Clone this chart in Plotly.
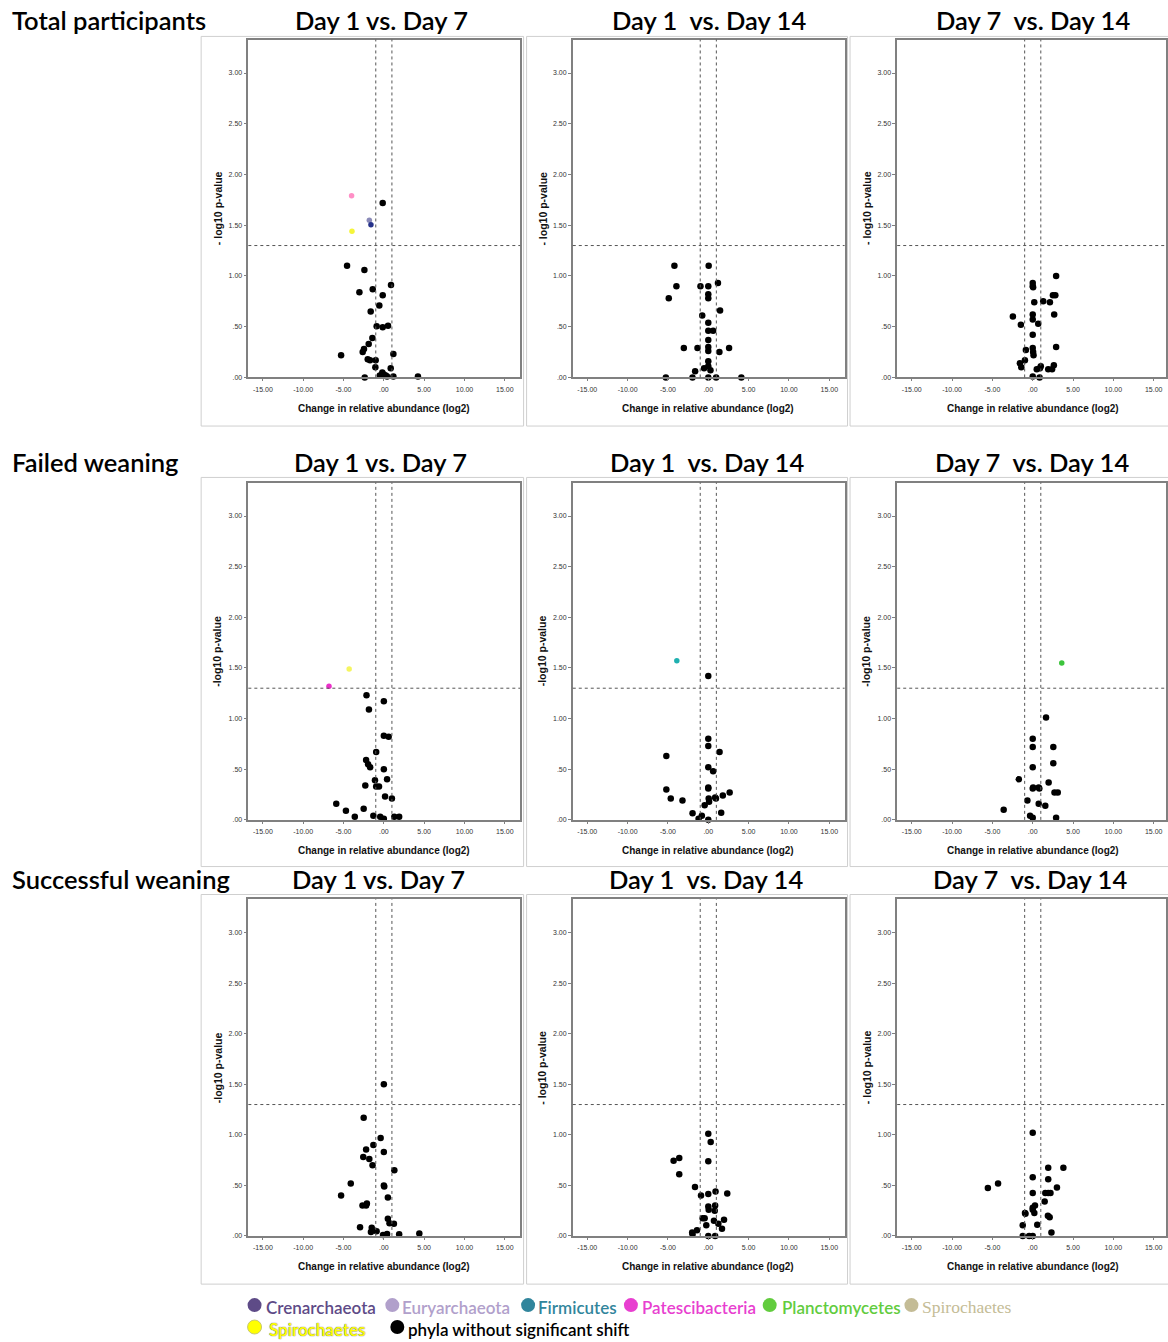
import plotly.graph_objects as go

W, H = 1168, 1342

# ---------------- DATA ----------------
group_names = ["Total participants", "Failed weaning", "Successful weaning"]
comparisons = ["Day 1 vs. Day 7", "Day 1\u00a0 vs. Day 14", "Day 7\u00a0 vs. Day 14"]
ytitles = [["- log10 p-value", "- log10 p-value", "- log10 p-value"],
           ["-log10 p-value", "-log10 p-value", "-log10 p-value"],
           ["-log10 p-value", "- log10 p-value", "- log10 p-value"]]
xtitle = "Change in relative abundance (log2)"

x_tickvals = [-15, -10, -5, 0, 5, 10, 15]
x_ticktext = ["-15.00", "-10.00", "-5.00", ".00", "5.00", "10.00", "15.00"]
y_tickvals = [0, 0.5, 1, 1.5, 2, 2.5, 3]
y_ticktext = [".00", ".50", "1.00", "1.50", "2.00", "2.50", "3.00"]

fc_threshold = 1.0      # |log2 fold change|
p_threshold = 1.30      # -log10(0.05)

# Total participants, Day 1 vs Day 7
tot_17_x = [-0.14, -4.56, -2.41, 0.89, -3.03, -1.38, -0.14, -0.56, -1.63, -0.89, -0.14, 0.52,
            -1.42, -1.88, -2.46, -2.62, -5.30, 1.18, -2.00, -1.71, -1.01, -1.05, 0.85, -0.19,
            0.0, -0.5, 0.23, 0.4, 1.18, -2.37, 4.23]
tot_17_y = [1.72, 1.10, 1.06, 0.91, 0.84, 0.87, 0.81, 0.71, 0.65, 0.505, 0.495, 0.51,
            0.39, 0.33, 0.28, 0.25, 0.22, 0.23, 0.18, 0.17, 0.17, 0.10, 0.09, 0.05,
            0.03, 0.02, 0.02, 0.01, 0.01, 0.0, 0.01]
tot_17_sig_x = [-4.0, -3.95, -1.8, -1.6]
tot_17_sig_y = [1.79, 1.44, 1.55, 1.505]
tot_17_sig_phylum = ["Patescibacteria", "Spirochaetes", "Euryarchaeota", "Crenarchaeota"]

# Total participants, Day 1 vs Day 14
tot_114_x = [-4.2, 0.05, -3.95, -0.97, 0.0, 1.2, 0.0, 0.0, -4.9, 1.46, -0.75, 0.0, 0.0, 0.6,
             0.0, 0.0, 0.0, -3.03, -1.34, 1.38, 2.58, 0.0, 0.0, -0.52, 0.27, -1.63, -1.96,
             -5.26, 0.0, 0.97, 4.1]
tot_114_y = [1.10, 1.10, 0.90, 0.90, 0.90, 0.93, 0.82, 0.78, 0.78, 0.66, 0.61, 0.54, 0.46, 0.46,
             0.37, 0.30, 0.26, 0.29, 0.29, 0.25, 0.29, 0.16, 0.11, 0.09, 0.07, 0.06, 0.0,
             0.0, 0.0, 0.0, 0.0]
tot_114_sig_x = []
tot_114_sig_y = []
tot_114_sig_phylum = []

# Total participants, Day 7 vs Day 14
tot_714_x = [2.9, 0.0, 0.0, 0.05, 0.19, 1.3, 2.13, 2.5, 2.8, -2.46, 0.0, 0.0, 2.66, -1.47,
             0.68, 0.0, 2.9, -0.85, 0.0, 0.05, 0.1, -0.97, -1.59, -1.42, 0.89, 1.0, 0.5,
             1.92, 2.4, 2.62, 0.0, 0.85]
tot_714_y = [1.00, 0.93, 0.90, 0.89, 0.74, 0.75, 0.74, 0.81, 0.81, 0.60, 0.62, 0.57, 0.62, 0.52,
             0.53, 0.42, 0.30, 0.27, 0.29, 0.25, 0.22, 0.17, 0.14, 0.10, 0.09, 0.11, 0.08,
             0.08, 0.08, 0.12, 0.01, 0.0]
tot_714_sig_x = []
tot_714_sig_y = []
tot_714_sig_phylum = []

# Failed weaning, Day 1 vs Day 7
fail_17_x = [-2.15, -1.85, 0.0, 0.0, 0.6, -0.95, -2.2, -1.95, -1.7, 0.0, -1.1, 0.4, -2.3, -0.95,
             -0.6, 0.15, 1.0, -5.9, -2.5, -4.7, -3.6, -1.3, -0.45, 0.0, 1.3, 1.9]
fail_17_y = [1.23, 1.09, 1.17, 0.83, 0.82, 0.67, 0.59, 0.55, 0.52, 0.50, 0.39, 0.40, 0.34, 0.33,
             0.33, 0.23, 0.21, 0.16, 0.11, 0.09, 0.03, 0.04, 0.03, 0.01, 0.03, 0.03]
fail_17_sig_x = [-6.8, -4.3]
fail_17_sig_y = [1.32, 1.49]
fail_17_sig_phylum = ["Patescibacteria", "Spirochaetes"]

# Failed weaning, Day 1 vs Day 14
fail_114_x = [0.0, 0.0, 0.0, 1.4, -5.2, 0.0, 0.6, 0.0, 0.0, -5.2, 2.65, 1.8, 0.85, 0.95, 0.05,
              0.1, -4.65, -3.2, -0.45, -1.95, 1.6, -0.8, -1.2, 0.0]
fail_114_y = [1.42, 0.80, 0.73, 0.67, 0.63, 0.52, 0.48, 0.32, 0.31, 0.30, 0.27, 0.24, 0.22, 0.21,
              0.21, 0.18, 0.21, 0.19, 0.145, 0.066, 0.07, 0.04, 0.01, 0.0]
fail_114_sig_x = [-3.9]
fail_114_sig_y = [1.57]
fail_114_sig_phylum = ["Firmicutes"]

# Failed weaning, Day 7 vs Day 14
fail_714_x = [1.65, 0.0, 0.0, 2.55, 2.55, 0.0, -1.73, 1.97, 0.0, 0.05, 0.74, 0.82, 2.7, 3.1,
              -0.66, 0.74, 1.56, -3.6, -0.33, 0.0, 2.9]
fail_714_y = [1.01, 0.80, 0.72, 0.72, 0.56, 0.52, 0.40, 0.37, 0.31, 0.32, 0.32, 0.31, 0.27, 0.27,
              0.19, 0.16, 0.14, 0.10, 0.04, 0.02, 0.02]
fail_714_sig_x = [3.6]
fail_714_sig_y = [1.55]
fail_714_sig_phylum = ["Planctomycetes"]

# Successful weaning, Day 1 vs Day 7
succ_17_x = [0.0, -2.5, -0.4, -1.3, -2.2, 0.0, -2.55, -1.8, -1.4, 1.3, -4.1, 0.0, 0.05, -5.3,
             0.5, -2.1, -2.2, -2.65, 0.5, 0.7, 1.25, -1.5, -2.95, -1.6, -0.9, -0.1, 0.4,
             1.9, 4.4]
succ_17_y = [1.50, 1.17, 0.97, 0.90, 0.855, 0.83, 0.78, 0.76, 0.70, 0.65, 0.52, 0.50, 0.49, 0.40,
             0.38, 0.32, 0.30, 0.30, 0.17, 0.125, 0.12, 0.08, 0.085, 0.04, 0.046, 0.01, 0.02,
             0.016, 0.023]
succ_17_sig_x = []
succ_17_sig_y = []
succ_17_sig_phylum = []

# Successful weaning, Day 1 vs Day 14
succ_114_x = [0.0, 0.3, 0.0, -4.3, -3.6, -3.6, -1.65, -0.9, 0.0, 0.9, 2.35, 0.0, 0.05, 0.85,
              0.8, -0.7, -0.45, 0.7, 1.95, 1.25, 1.7, -0.25, -1.4, -2.0, -1.95, 0.0, 0.85]
succ_114_y = [1.01, 0.93, 0.74, 0.745, 0.77, 0.61, 0.485, 0.40, 0.415, 0.44, 0.42, 0.29, 0.26,
              0.30, 0.25, 0.175, 0.175, 0.15, 0.16, 0.12, 0.07, 0.105, 0.056, 0.033, 0.016,
              0.0, 0.0]
succ_114_sig_x = []
succ_114_sig_y = []
succ_114_sig_phylum = []

# Successful weaning, Day 7 vs Day 14
succ_714_x = [0.0, 1.92, 3.8, 0.0, 1.92, -4.3, -5.56, 3.0, 0.0, 1.56, 1.92, 2.2, 1.48, 0.28,
              0.0, 0.0, -0.96, -0.9, 0.2, 1.88, 2.1, 0.56, -1.24, 2.32, -1.24, -0.45, 0.0]
succ_714_y = [1.02, 0.675, 0.675, 0.58, 0.56, 0.52, 0.475, 0.48, 0.425, 0.425, 0.425, 0.425,
              0.34, 0.30, 0.28, 0.26, 0.227, 0.22, 0.227, 0.20, 0.185, 0.11, 0.105, 0.033,
              0.0, 0.0, 0.0]
succ_714_sig_x = []
succ_714_sig_y = []
succ_714_sig_phylum = []

legend_row1 = ["Crenarchaeota", "Euryarchaeota", "Firmicutes", "Patescibacteria",
               "Planctomycetes", "Spirochaetes"]
legend_row2 = ["Spirochaetes", "phyla without significant shift"]

panels = [
    [(tot_17_x, tot_17_y, tot_17_sig_x, tot_17_sig_y, tot_17_sig_phylum),
     (tot_114_x, tot_114_y, tot_114_sig_x, tot_114_sig_y, tot_114_sig_phylum),
     (tot_714_x, tot_714_y, tot_714_sig_x, tot_714_sig_y, tot_714_sig_phylum)],
    [(fail_17_x, fail_17_y, fail_17_sig_x, fail_17_sig_y, fail_17_sig_phylum),
     (fail_114_x, fail_114_y, fail_114_sig_x, fail_114_sig_y, fail_114_sig_phylum),
     (fail_714_x, fail_714_y, fail_714_sig_x, fail_714_sig_y, fail_714_sig_phylum)],
    [(succ_17_x, succ_17_y, succ_17_sig_x, succ_17_sig_y, succ_17_sig_phylum),
     (succ_114_x, succ_114_y, succ_114_sig_x, succ_114_sig_y, succ_114_sig_phylum),
     (succ_714_x, succ_714_y, succ_714_sig_x, succ_714_sig_y, succ_714_sig_phylum)],
]

# ---------------- STYLE ----------------
panel_point_colors = {
    (0, 0): {"Patescibacteria": "#ff8fc6", "Spirochaetes": "#f5f53a",
             "Euryarchaeota": "#8a8ab8", "Crenarchaeota": "#26328a"},
    (1, 0): {"Patescibacteria": "#ea2fc8", "Spirochaetes": "#f5f560"},
    (1, 1): {"Firmicutes": "#1fb0b0"},
    (1, 2): {"Planctomycetes": "#3cc43c"},
}
legend_colors = {
    "Crenarchaeota": "#5e4b87", "Euryarchaeota": "#b1a0cb", "Firmicutes": "#31859c",
    "Patescibacteria": "#e83fd0", "Planctomycetes": "#62cc3e", "Spirochaetes": "#c4bc96",
}

FONT = "Liberation Sans, Arial, sans-serif"
HEAD_FONT = "Lato, Open Sans, sans-serif"

def fx(p):
    return p / W

def fy(p):
    return 1 - p / H

col_x0 = [384.5, 709.5, 1034.5]     # pixel of x=0 in each column
row_y0 = [378.3, 821.7, 1238.7]     # pixel of y=0 in each row
px_per_x = 8.08
px_per_y = [101.7, 101.5, 101.3]
x_lo = -16.8
x_hi = [16.9, 16.9, (W - col_x0[2]) / px_per_x]
y_hi = 3.33

fig = go.Figure()
shapes = []
annotations = []

box_cols = [(201.5, 524.5), (527.5, 849.0), (851.5, W + 5)]
box_rows = [(36.5, 427.0), (478.5, 868.5), (896.5, 1287.0)]
head_y = [20, 463, 881]
title_cx = [[382, 710, 1035], [381, 708, 1034], [379, 707, 1032]]
head_font = dict(family=HEAD_FONT, size=25.5, color="#000", weight=600)

for r in range(3):
    annotations.append(dict(text=group_names[r], x=fx(10), y=fy(head_y[r]), xref="paper",
                            yref="paper", xanchor="left", yanchor="middle", showarrow=False,
                            font=head_font))
    for c in range(3):
        k = r * 3 + c + 1
        xa = "x" if k == 1 else f"x{k}"
        ya = "y" if k == 1 else f"y{k}"
        xs, ys, sx, sy, sp = panels[r][c]
        bx0, bx1 = box_cols[c]
        by0, by1 = box_rows[r]
        shapes.append(dict(type="rect", xref="paper", yref="paper", x0=fx(bx0), x1=fx(bx1),
                           y0=fy(by1), y1=fy(by0), line=dict(color="#cfcfcf", width=1),
                           layer="below"))
        dom_l = col_x0[c] + x_lo * px_per_x
        dom_r = col_x0[c] + x_hi[c] * px_per_x
        dom_b = row_y0[r]
        dom_t = row_y0[r] - y_hi * px_per_y[r]
        axis_common = dict(showgrid=False, zeroline=False, showline=True, mirror=True,
                           linecolor="#808080", linewidth=1.5,
                           tickfont=dict(family=FONT, size=7, color="#333"))
        fig.layout[("xaxis" if k == 1 else f"xaxis{k}")] = dict(
            axis_common, domain=[fx(dom_l), min(1.0, fx(dom_r))], range=[x_lo, x_hi[c]],
            anchor=ya, tickvals=x_tickvals, ticktext=x_ticktext, ticks="outside",
            ticklen=2, tickcolor="#808080", fixedrange=True, ticklabelstandoff=2)
        fig.layout[("yaxis" if k == 1 else f"yaxis{k}")] = dict(
            axis_common, domain=[fy(dom_b), fy(dom_t)], range=[0, y_hi], anchor=xa,
            tickvals=y_tickvals, ticktext=y_ticktext, ticks="outside", ticklen=3,
            tickcolor="#808080", fixedrange=True)
        for v in (-fc_threshold, fc_threshold):
            shapes.append(dict(type="line", xref=xa, yref=f"{ya} domain", x0=v, x1=v, y0=0,
                               y1=1, line=dict(color="#555", width=1, dash="dot")))
        shapes.append(dict(type="line", xref=f"{xa} domain", yref=ya, x0=0, x1=1,
                           y0=p_threshold, y1=p_threshold,
                           line=dict(color="#555", width=1, dash="dot")))
        fig.add_trace(go.Scatter(x=xs, y=ys, xaxis=xa, yaxis=ya, mode="markers",
                                 marker=dict(color="black", size=6.5), cliponaxis=False,
                                 showlegend=False, hoverinfo="x+y"))
        if sx:
            cmap = panel_point_colors[(r, c)]
            fig.add_trace(go.Scatter(x=sx, y=sy, xaxis=xa, yaxis=ya, mode="markers",
                                     marker=dict(color=[cmap[p] for p in sp], size=5.5),
                                     cliponaxis=False, showlegend=False, text=sp,
                                     hoverinfo="text+x+y"))
        annotations.append(dict(text=comparisons[c], x=fx(title_cx[r][c]), y=fy(head_y[r]),
                                xref="paper", yref="paper", xanchor="center", yanchor="middle",
                                showarrow=False, font=head_font))
        annotations.append(dict(text=ytitles[r][c], x=fx(218 + 325 * c),
                                y=fy((dom_t + dom_b) / 2), xref="paper", yref="paper",
                                xanchor="center", yanchor="middle", textangle=-90,
                                showarrow=False,
                                font=dict(family=FONT, size=10.5, color="#111", weight="bold")))
        annotations.append(dict(text=xtitle, x=fx(col_x0[c]), y=fy(row_y0[r] + 31),
                                xref="paper", yref="paper", xanchor="center", yanchor="middle",
                                showarrow=False,
                                font=dict(family=FONT, size=10, color="#111", weight="bold")))

# legend (two rows under the grid)
LEG_Y1, LEG_Y2 = 1308, 1330
leg1_pos = [(255, 264), (393, 401), (529, 537), (632, 641), (771, 781), (913, 922)]
for name, (cx, tx) in zip(legend_row1, leg1_pos):
    col = legend_colors[name]
    shapes.append(dict(type="circle", xref="paper", yref="paper", x0=fx(cx - 7), x1=fx(cx + 7),
                       y0=fy(LEG_Y1 + 7), y1=fy(LEG_Y1 - 7), fillcolor=col, line=dict(width=0)))
    if name == "Spirochaetes":
        fnt = dict(family="Liberation Serif, serif", size=17.5, color=col)
    else:
        fnt = dict(family=HEAD_FONT, size=17, color=col, weight=600)
    annotations.append(dict(text=name, x=fx(tx), y=fy(LEG_Y1 + 2), xref="paper", yref="paper",
                            xanchor="left", yanchor="middle", showarrow=False, font=fnt))
leg2_pos = [(255, 267), (398, 407)]
leg2_colors = ["#ffff00", "#000000"]
for name, (cx, tx), col in zip(legend_row2, leg2_pos, leg2_colors):
    shapes.append(dict(type="circle", xref="paper", yref="paper", x0=fx(cx - 7), x1=fx(cx + 7),
                       y0=fy(LEG_Y2 + 7), y1=fy(LEG_Y2 - 7), fillcolor=col,
                       line=dict(width=1 if col == "#ffff00" else 0, color="#c8c870")))
    fnt = dict(family=HEAD_FONT, size=17, color=col, weight=600)
    if col == "#ffff00":
        fnt["shadow"] = "0 0 1px #777, 0 0 1px #777"
    annotations.append(dict(text=name, x=fx(tx), y=fy(LEG_Y2 + 2), xref="paper", yref="paper",
                            xanchor="left", yanchor="middle", showarrow=False, font=fnt))

fig.update_layout(width=W, height=H, margin=dict(l=0, r=0, t=0, b=0),
                  paper_bgcolor="white", plot_bgcolor="white", shapes=shapes,
                  annotations=annotations, showlegend=False)

fig.write_html("out.html")
